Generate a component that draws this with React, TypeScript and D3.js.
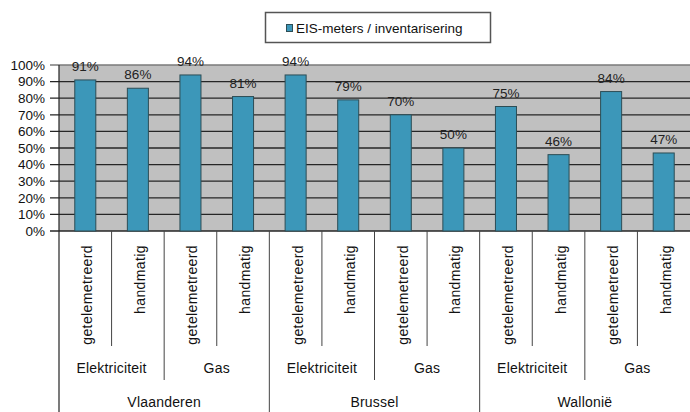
import React from "react";
import * as d3 from "d3";

// DATA
const regions = ["Vlaanderen", "Brussel", "Wallonië"];
const energies = ["Elektriciteit", "Gas"];
const methods = ["getelemetreerd", "handmatig"];
const values = [91, 86, 94, 81, 94, 79, 70, 50, 75, 46, 84, 47];
const yTicks = [0, 10, 20, 30, 40, 50, 60, 70, 80, 90, 100];
const legendLabel = "EIS-meters / inventarisering";

const W = 690;
const H = 412;
const margin = { top: 65, right: 0, bottom: 181, left: 59 };
const FONT = "'Liberation Sans', Arial, sans-serif";

export default function App() {
  const ids = values.map((_, i) => i);
  const x = d3
    .scaleBand<number>()
    .domain(ids)
    .range([margin.left, W - margin.right])
    .paddingInner(0.6)
    .paddingOuter(0.3);
  const y = d3
    .scaleLinear()
    .domain([0, 100])
    .range([H - margin.bottom, margin.top]);

  const step = x.step();
  const x0 = margin.left;
  const y0 = y(0);
  // left edge of category i
  const edge = (i: number) => margin.left + i * step;
  const center = (i: number) => (x(i) as number) + x.bandwidth() / 2;

  // separators: every category edge, length depends on level
  const seps = d3.range(1, values.length).map((i) => {
    let bottom = 346;
    if (i % 4 === 0) bottom = H;
    else if (i % 2 === 0) bottom = 380;
    return { x: edge(i), bottom };
  });

  return (
    <svg
      width={W}
      height={H}
      style={{ position: "absolute", left: 0, top: 0, background: "#fff" }}
      fontFamily={FONT}
    >
      {/* LEGEND */}
      <rect x={265.5} y={12.5} width={225} height={30} fill="#fff" stroke="#555" strokeWidth={1.5} />
      <rect x={286.5} y={24.5} width={6} height={7} fill="#3c97b9" stroke="#2d4d55" />
      <text x={296} y={33} fontSize={13.5} fill="#111">
        {legendLabel}
      </text>

      {/* PLOT BACKGROUND */}
      <rect x={x0} y={margin.top} width={W - x0} height={y0 - margin.top} fill="#c0c0c0" />

      {/* GRID */}
      {yTicks.map((t) => (
        <g key={t}>
          <line
            x1={x0 - 9}
            x2={W}
            y1={y(t)}
            y2={y(t)}
            stroke={t === 100 ? "#7a7a7a" : "#262626"}
            strokeWidth={t === 0 ? 1.5 : 1.3}
          />
          <text x={45} y={y(t)} dy="0.36em" textAnchor="end" fontSize={13.5} fill="#111">
            {t}%
          </text>
        </g>
      ))}

      {/* BARS */}
      {values.map((v, i) => (
        <g key={i}>
          <rect
            x={x(i)}
            y={y(v)}
            width={x.bandwidth()}
            height={y0 - y(v)}
            fill="#3c97b9"
            stroke="#2d4d55"
            strokeWidth={1}
          />
          <text x={center(i)} y={y(v) - 9} textAnchor="middle" fontSize={13.5} fill="#222">
            {v}%
          </text>
        </g>
      ))}

      {/* CATEGORY AXIS */}
      <line x1={x0} x2={x0} y1={margin.top} y2={H} stroke="#222" strokeWidth={1.2} />
      {seps.map((s, i) => (
        <line key={i} x1={s.x} x2={s.x} y1={y0} y2={s.bottom} stroke="#444" strokeWidth={1} />
      ))}
      {values.map((_, i) => (
        <text
          key={i}
          transform={`translate(${center(i) + 7},245) rotate(-90)`}
          textAnchor="end"
          fontSize={14}
          letterSpacing={0.4}
          fill="#111"
        >
          {methods[i % 2]}
        </text>
      ))}
      {d3.range(6).map((j) => (
        <text
          key={j}
          x={edge(j * 2) + step}
          y={373}
          textAnchor="middle"
          fontSize={14}
          letterSpacing={0.2}
          fill="#111"
        >
          {energies[j % 2]}
        </text>
      ))}
      {regions.map((r, k) => (
        <text
          key={r}
          x={edge(k * 4) + step * 2}
          y={407}
          textAnchor="middle"
          fontSize={14}
          letterSpacing={0.2}
          fill="#111"
        >
          {r}
        </text>
      ))}
    </svg>
  );
}
